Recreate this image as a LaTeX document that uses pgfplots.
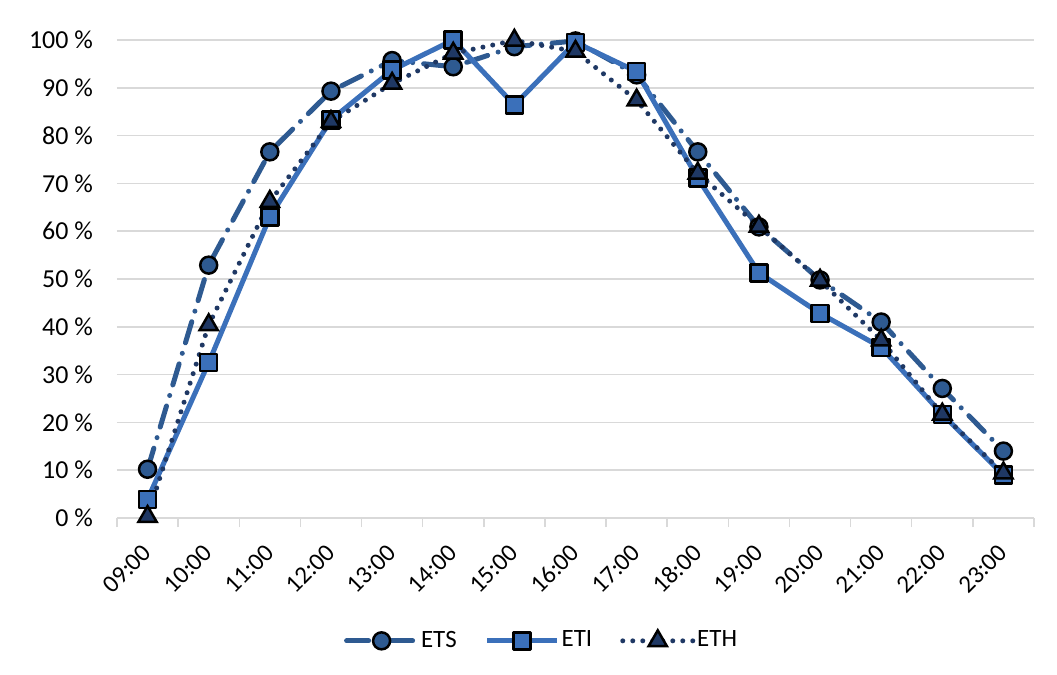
\documentclass[border=0pt]{standalone}
\usepackage{fontspec}
\setmainfont{Carlito}
\usepackage{pgfplots}
\pgfplotsset{compat=1.18}
\usepackage{pgfplotstable}
\definecolor{cETS}{RGB}{46,90,145}
\definecolor{cETI}{RGB}{59,112,186}
\definecolor{cETH}{RGB}{31,56,100}
\definecolor{cGrid}{RGB}{217,217,217}
\pgfplotstableread{
x ETS ETI ETH
0 10.2 3.9 0.3
1 52.9 32.5 40.4
2 76.6 63.0 66.2
3 89.3 83.3 82.9
4 95.7 93.7 90.9
5 94.4 100.0 97.2
6 98.6 86.4 99.9
7 99.8 99.5 97.6
8 92.7 93.4 87.4
9 76.6 71.1 72.1
10 60.9 51.3 61.0
11 49.8 42.8 49.7
12 41.0 35.7 37.2
13 27.1 21.7 21.7
14 14.0 9.0 9.4
}\data
\begin{document}
\fontsize{25}{30}\selectfont
\begin{tikzpicture}
\path[use as bounding box] (-117bp,-157bp) rectangle (940bp,518bp);
\begin{axis}[
  at={(0,0)}, anchor=south west,
  scale only axis,
  width=917bp, height=478bp,
  xmin=-0.5, xmax=14.5, ymin=0, ymax=100,
  xtick={0,...,14},
  xticklabels={09:00,10:00,11:00,12:00,13:00,14:00,15:00,16:00,17:00,18:00,19:00,20:00,21:00,22:00,23:00},
  minor xtick={-0.5,0.5,1.5,2.5,3.5,4.5,5.5,6.5,7.5,8.5,9.5,10.5,11.5,12.5,13.5,14.5},
  ytick={0,10,...,100},
  yticklabel={\pgfmathprintnumber{\tick}~\%},
  /pgf/number format/assume math mode=true,
  tick pos=left,
  tick align=outside,
  major tick length=0pt,
  minor tick length=9bp,
  minor x tick style={draw=cGrid, line width=1.5bp},
  major tick style={draw=none},
  ytick style={draw=none},
  axis line style={draw=none},
  ymajorgrids,
  major grid style={draw=cGrid, line width=1.5bp},
  yticklabel style={font=\fontsize{26}{30}\selectfont, text=black, inner sep=0pt, xshift=-24bp},
  xticklabel style={font=\fontsize{25}{30}\selectfont, text=black, yshift=-29bp, xshift=1bp, rotate=45, anchor=east, inner sep=2bp},
  clip=false,
  legend columns=3,
  legend style={draw=none, fill=none, at={(0.463,-0.257)}, anchor=center,
    font=\fontsize{25}{30}\selectfont,
    /tikz/every even column/.append style={column sep=26bp}},
  legend image code/.code={
    \draw[mark repeat=2, mark phase=2] plot coordinates {(0bp,0bp) (35bp,0bp) (70bp,0bp)};
  },
]
\addplot[cETS, line width=5bp, line cap=round, dash pattern=on 22bp off 11bp on 0bp off 11bp,
  mark=*, mark size=8.5bp, mark options={solid, fill=cETS, draw=black, line width=2.5bp}]
  table[x=x, y=ETS] {\data};
\addlegendentry{ETS}
\addplot[cETI, line width=5bp, line join=round,
  mark=square*, mark size=8.5bp, mark options={solid, fill=cETI, draw=black, line width=2.5bp}]
  table[x=x, y=ETI] {\data};
\addlegendentry{ETI}
\addplot[cETH, line width=5bp, line cap=round, dash pattern=on 0bp off 10bp,
  mark=triangle*, mark size=10.5bp, mark options={solid, fill=cETH, draw=black, line width=2.5bp}]
  table[x=x, y=ETH] {\data};
\addlegendentry{ETH}
\end{axis}
\end{tikzpicture}
\end{document}
